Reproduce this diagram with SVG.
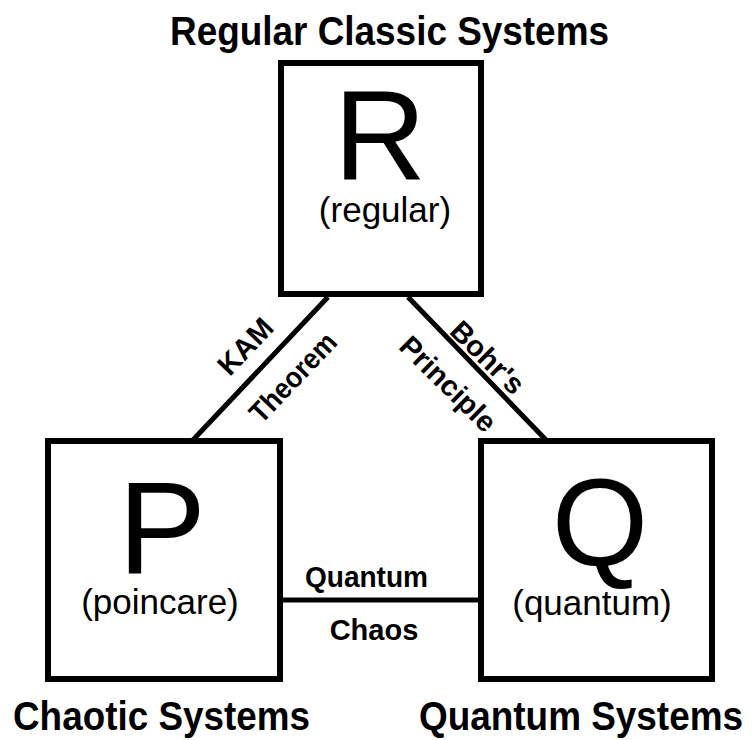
<svg xmlns="http://www.w3.org/2000/svg" width="752" height="740" viewBox="0 0 752 740">
<style>
  text { font-family: "Liberation Sans", Arial, Helvetica, sans-serif; fill: #000; text-anchor: middle; }
  .box { fill: #fff; stroke: #000; stroke-width: 6; }
  .conn { stroke: #000; stroke-width: 5; fill: none; }
  .big { font-size: 128px; }
  .sub { font-size: 35px; }
  .cap { font-size: 40px; font-weight: bold; }
  .lbl { font-size: 29px; font-weight: bold; }
</style>
<rect width="752" height="740" fill="#fff"/>
<g id="connectors">
  <line class="conn" x1="328" y1="297" x2="192" y2="441"/>
  <line class="conn" x1="408" y1="297" x2="547" y2="441"/>
  <line class="conn" x1="283" y1="600" x2="478" y2="600"/>
  <text class="lbl" transform="translate(245,346) rotate(-46.4)" dy="10.5">KAM</text>
  <text class="lbl" transform="translate(292.5,377) rotate(-46.4)" dy="10.5" textLength="112" lengthAdjust="spacingAndGlyphs">Theorem</text>
  <text class="lbl" transform="translate(488,357) rotate(44.6)" dy="10.5">Bohr's</text>
  <text class="lbl" transform="translate(448.5,383.5) rotate(44.6)" dy="10.5">Principle</text>
  <text class="lbl" x="366.5" y="587" textLength="123" lengthAdjust="spacingAndGlyphs">Quantum</text>
  <text class="lbl" x="374" y="640">Chaos</text>
</g>
<g id="node-R">
  <rect class="box" x="281" y="63" width="200" height="231"/>
  <text class="big" x="380" y="180">R</text>
  <text class="sub" x="385" y="222">(regular)</text>
  <text class="cap" x="389.5" y="45" textLength="439" lengthAdjust="spacingAndGlyphs">Regular Classic Systems</text>
</g>
<g id="node-P">
  <rect class="box" x="48" y="441" width="232" height="238"/>
  <text class="big" x="162" y="573" style="font-size:132px">P</text>
  <text class="sub" x="160" y="614">(poincare)</text>
  <text class="cap" x="161.5" y="730" textLength="297" lengthAdjust="spacingAndGlyphs">Chaotic Systems</text>
</g>
<g id="node-Q">
  <rect class="box" x="481" y="441" width="231" height="238"/>
  <text class="big" x="600" y="565" style="font-size:124px">Q</text>
  <text class="sub" x="592" y="615">(quantum)</text>
  <text class="cap" x="581" y="730" textLength="324" lengthAdjust="spacingAndGlyphs">Quantum Systems</text>
</g>
</svg>
